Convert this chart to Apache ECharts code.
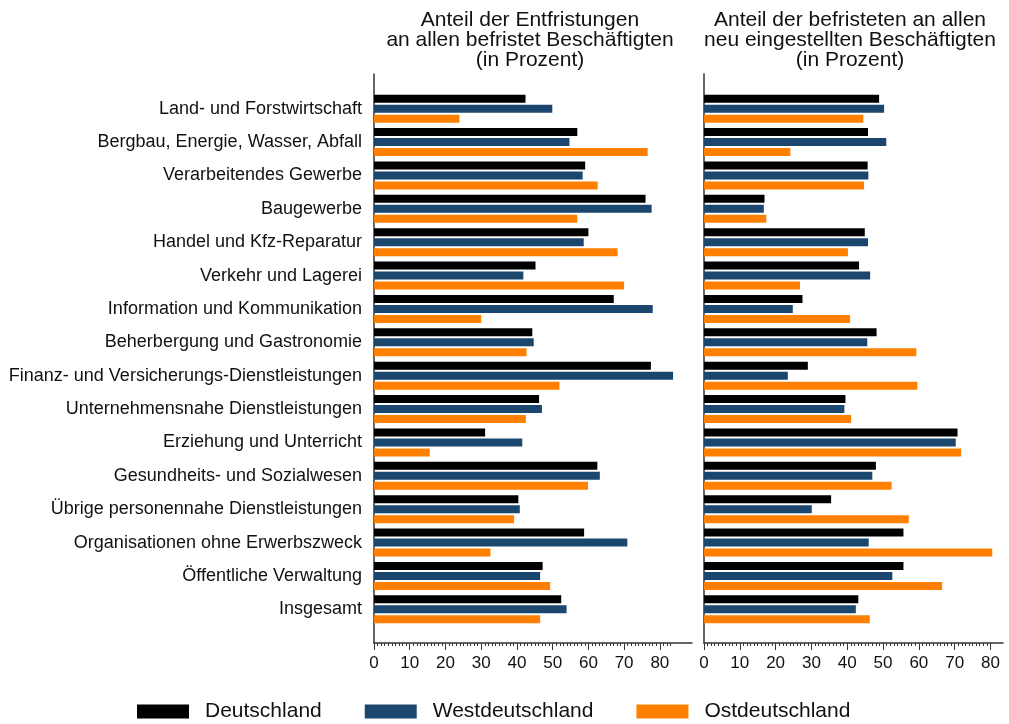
<!DOCTYPE html>
<html>
<head>
<meta charset="utf-8">
<script src="https://cdn.jsdelivr.net/npm/echarts@6/dist/echarts.min.js"></script>
<style>
  html, body { margin: 0; padding: 0; background: #fff; }
</style>
</head>
<body>
<div id="chart" style="width: 1009px; height: 724px;"></div>
<script>
var branches = [
  'Land- und Forstwirtschaft',
  'Bergbau, Energie, Wasser, Abfall',
  'Verarbeitendes Gewerbe',
  'Baugewerbe',
  'Handel und Kfz-Reparatur',
  'Verkehr und Lagerei',
  'Information und Kommunikation',
  'Beherbergung und Gastronomie',
  'Finanz- und Versicherungs-Dienstleistungen',
  'Unternehmensnahe Dienstleistungen',
  'Erziehung und Unterricht',
  'Gesundheits- und Sozialwesen',
  'Übrige personennahe Dienstleistungen',
  'Organisationen ohne Erwerbszweck',
  'Öffentliche Verwaltung',
  'Insgesamt'
];

var seriesNames = ['Deutschland', 'Westdeutschland', 'Ostdeutschland'];
var seriesColors = ['#000000', '#1b466e', '#ff8000'];

// Anteil der Entfristungen
var entfristDE = [42.4, 56.9, 59.1, 76.0, 60.0, 45.2, 67.1, 44.3, 77.5, 46.2, 31.1, 62.5, 40.4, 58.8, 47.2, 52.4];
var entfristWest = [49.9, 54.7, 58.4, 77.7, 58.7, 41.8, 78.0, 44.7, 83.7, 47.0, 41.5, 63.2, 40.8, 70.9, 46.5, 53.9];
var entfristOst = [23.9, 76.6, 62.6, 56.9, 68.2, 70.0, 30.0, 42.7, 51.9, 42.5, 15.6, 59.9, 39.2, 32.6, 49.3, 46.5];

// Anteil der befristeten an allen Neueinstellungen
var befristDE = [48.9, 45.8, 45.7, 16.9, 44.9, 43.3, 27.5, 48.2, 29.0, 39.5, 70.8, 48.0, 35.5, 55.7, 55.7, 43.1];
var befristWest = [50.3, 50.9, 45.9, 16.7, 45.8, 46.4, 24.8, 45.6, 23.4, 39.2, 70.3, 47.0, 30.1, 46.0, 52.6, 42.4];
var befristOst = [44.5, 24.1, 44.7, 17.4, 40.2, 26.8, 40.8, 59.3, 59.6, 41.1, 71.8, 52.4, 57.2, 80.5, 66.5, 46.3];

var majorTicks = [0, 10, 20, 30, 40, 50, 60, 70, 80];
var minorTicksLeft = [];
for (var i = 0; i <= 83; i++) minorTicksLeft.push(i);
var minorTicksRight = [];
for (var i = 0; i <= 80; i++) minorTicksRight.push(i);

var titles = [
  'Anteil der Entfristungen\nan allen befristet Beschäftigten\n(in Prozent)',
  'Anteil der befristeten an allen\nneu eingestellten Beschäftigten\n(in Prozent)'
];

var font = 'Liberation Sans, Arial, sans-serif';
var lineColor = '#333';

var panels = [
  { left: 374, width: 318, max: 89, titleX: 525, minor: minorTicksLeft, data: [entfristDE, entfristWest, entfristOst] },
  { left: 704, width: 299, max: 83.5, titleX: 845, minor: minorTicksRight, data: [befristDE, befristWest, befristOst] }
];

var option = {
  animation: false,
  textStyle: { fontFamily: font },
  title: [],
  legend: {
    data: seriesNames,
    top: 701,
    left: 137,
    padding: 0,
    itemWidth: 52,
    itemHeight: 14,
    itemGap: 43,
    icon: 'rect',
    textStyle: { fontSize: 21, color: '#111', padding: [0, 0, 0, 11] }
  },
  grid: [],
  xAxis: [],
  yAxis: [],
  series: []
};

for (var p = 0; p < panels.length; p++) {
  var pan = panels[p];
  option.title.push({
    text: titles[p],
    left: pan.titleX,
    top: 5,
    textAlign: 'center',
    textStyle: { fontSize: 21, lineHeight: 20, fontWeight: 'normal', color: '#111' }
  });

  // frame grid: axis lines, ticks and labels
  var fg = option.grid.length;
  option.grid.push({ left: pan.left, width: pan.width, top: 74, bottom: 81 });
  option.xAxis.push({
    gridIndex: fg, type: 'value', min: 0, max: pan.max, position: 'bottom',
    axisLine: { show: true, lineStyle: { color: lineColor, width: 1.5 } },
    axisTick: { show: true, customValues: majorTicks, length: 7, lineStyle: { color: lineColor } },
    axisLabel: { customValues: majorTicks, fontSize: 17, color: '#111', margin: 12 },
    splitLine: { show: false }
  });
  option.xAxis.push({
    gridIndex: fg, type: 'value', min: 0, max: pan.max, position: 'bottom',
    axisLine: { show: false },
    axisTick: { show: true, customValues: pan.minor, length: 3, lineStyle: { color: lineColor } },
    axisLabel: { show: false },
    splitLine: { show: false }
  });
  option.yAxis.push({
    gridIndex: fg, type: 'value', min: 0, max: 1, position: 'left',
    axisLine: { show: true, lineStyle: { color: lineColor, width: 1.5 } },
    axisTick: { show: false }, axisLabel: { show: false }, splitLine: { show: false }
  });

  // bar grid
  var bg = option.grid.length;
  option.grid.push({ left: pan.left, width: pan.width, top: 92, bottom: 98 });
  var bx = option.xAxis.length;
  option.xAxis.push({
    gridIndex: bg, type: 'value', min: 0, max: pan.max, show: false
  });
  var by = option.yAxis.length;
  option.yAxis.push({
    gridIndex: bg, type: 'category', data: branches, inverse: true,
    axisLine: { show: false }, axisTick: { show: false },
    axisLabel: { show: p === 0, fontSize: 18, color: '#111', margin: 12 }
  });

  for (var s = 0; s < 3; s++) {
    option.series.push({
      name: seriesNames[s],
      type: 'bar',
      xAxisIndex: bx,
      yAxisIndex: by,
      barWidth: 8,
      barGap: '25%',
      itemStyle: { color: seriesColors[s] },
      data: pan.data[s]
    });
  }
}

var chart = echarts.init(document.getElementById('chart'));
chart.setOption(option);
</script>
</body>
</html>
